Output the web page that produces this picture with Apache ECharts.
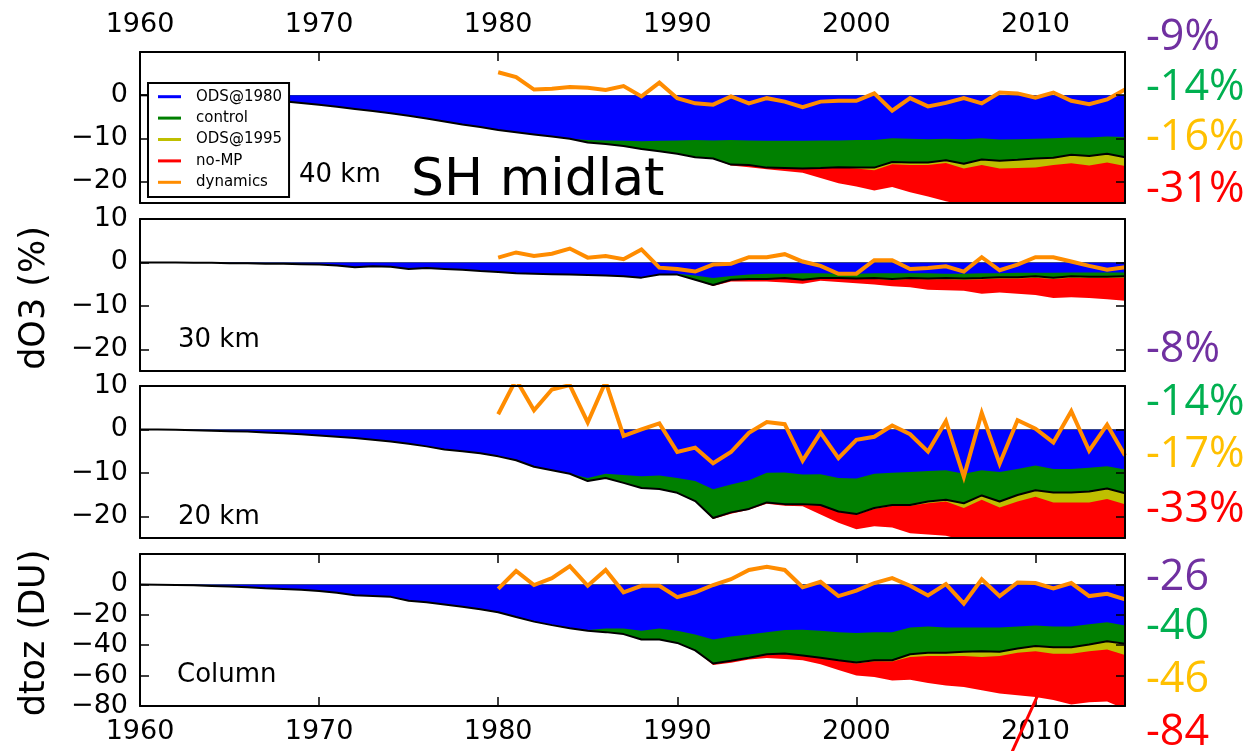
<!DOCTYPE html>
<html><head><meta charset="utf-8">
<script src="https://cdn.jsdelivr.net/npm/echarts@6/dist/echarts.min.js"></script>
<style>html,body{margin:0;padding:0;background:#fff}#c{width:1249px;height:751px}</style>
</head><body><div id="c"></div>
<script>
// ---------- DATA (1960..2015 annual) ----------
const years = [];
for (let y = 1960; y <= 2015; y++) years.push(y);
const dynYears = years.filter(y => y >= 1980);
const xTickLabels = [1960, 1970, 1980, 1990, 2000, 2010];

// 40 km (%)
const control_40 = [0,-0.1,-0.2,-0.4,-0.6,-0.8,-1.0,-1.2,-1.4,-1.8,
  -2.2,-2.7,-3.2,-3.7,-4.2,-4.8,-5.4,-6.1,-6.8,-7.4,
  -8.1,-8.6,-9.1,-9.6,-10.1,-11.0,-11.3,-11.8,-12.5,-13.0,
  -13.6,-14.4,-14.7,-16.1,-16.2,-16.8,-16.9,-17.0,-16.9,-16.7,
  -16.8,-16.8,-15.5,-15.6,-15.6,-15.1,-15.9,-14.9,-15.2,-15.0,
  -14.7,-14.5,-13.8,-14.1,-13.6,-14.4];
const ods1980_40 = [0,-0.1,-0.2,-0.4,-0.6,-0.8,-1.0,-1.2,-1.4,-1.8,
  -2.2,-2.7,-3.2,-3.7,-4.2,-4.8,-5.4,-6.1,-6.8,-7.4,
  -8.1,-8.6,-9.1,-9.6,-10.1,-10.4,-10.5,-10.6,-10.7,-10.6,
  -10.5,-10.4,-10.5,-10.4,-10.5,-10.6,-10.6,-10.6,-10.5,-10.5,
  -10.4,-10.4,-10.0,-10.1,-10.2,-10.1,-10.2,-10.0,-10.3,-10.2,
  -10.1,-10.0,-9.8,-9.8,-9.6,-9.7];
const ods1995_40 = [0,-0.1,-0.2,-0.4,-0.6,-0.8,-1.0,-1.2,-1.4,-1.8,
  -2.2,-2.7,-3.2,-3.7,-4.2,-4.8,-5.4,-6.1,-6.8,-7.4,
  -8.1,-8.6,-9.1,-9.6,-10.1,-11.0,-11.3,-11.8,-12.5,-13.0,
  -13.6,-14.4,-14.7,-16.1,-16.2,-16.8,-16.9,-17.0,-16.9,-16.7,
  -17.0,-17.4,-16.0,-16.2,-16.2,-15.7,-17.0,-16.2,-17.0,-16.9,
  -16.8,-16.2,-15.8,-16.3,-15.6,-16.4];
const noMP_40 = [0,-0.1,-0.2,-0.4,-0.6,-0.8,-1.0,-1.2,-1.4,-1.8,
  -2.2,-2.7,-3.2,-3.7,-4.2,-4.8,-5.4,-6.1,-6.8,-7.4,
  -8.1,-8.6,-9.1,-9.6,-10.1,-11.0,-11.3,-11.8,-12.5,-13.0,
  -13.6,-14.4,-14.7,-16.3,-16.7,-17.2,-17.6,-18.0,-19.2,-20.4,
  -21.2,-22.1,-21.3,-22.5,-23.5,-24.6,-25.5,-26.3,-27.0,-27.6,
  -28.2,-28.8,-29.4,-30.0,-30.5,-31.0];
const dynamics_40 = [5.3,4.2,1.3,1.5,1.9,1.7,1.2,2.1,-0.3,2.9,
  -0.7,-1.9,-2.2,-0.3,-1.9,-0.7,-1.5,-2.8,-1.5,-1.3,
  -1.3,0.4,-3.6,-0.7,-2.6,-1.8,-0.7,-1.9,0.6,0.4,
  -0.6,0.6,-1.3,-2.1,-1.0,1.3];

// 30 km (%)
const control_30 = [0,0,0,-0.1,-0.1,-0.2,-0.2,-0.3,-0.3,-0.4,
  -0.5,-0.7,-1.1,-0.9,-1.0,-1.5,-1.3,-1.5,-1.7,-2.0,
  -2.2,-2.5,-2.6,-2.7,-2.8,-2.9,-3.0,-3.2,-3.5,-2.8,
  -2.8,-4.0,-5.2,-4.0,-3.8,-3.8,-3.6,-4.0,-3.6,-3.6,
  -3.7,-3.6,-3.8,-3.6,-3.7,-3.6,-3.7,-3.6,-3.4,-3.4,
  -3.2,-3.5,-3.2,-3.3,-3.3,-3.2];
const ods1980_30 = [0,0,0,-0.1,-0.1,-0.2,-0.2,-0.3,-0.3,-0.4,
  -0.5,-0.7,-1.1,-0.9,-1.0,-1.5,-1.3,-1.5,-1.7,-2.0,
  -2.2,-2.5,-2.6,-2.7,-2.8,-2.9,-3.0,-3.2,-3.5,-2.8,
  -2.6,-3.0,-3.6,-3.1,-2.8,-2.6,-2.6,-2.5,-2.5,-2.6,
  -2.6,-2.5,-2.5,-2.5,-2.5,-2.6,-2.6,-2.5,-2.5,-2.4,
  -2.4,-2.4,-2.3,-2.3,-2.3,-2.3];
const ods1995_30 = [0,0,0,-0.1,-0.1,-0.2,-0.2,-0.3,-0.3,-0.4,
  -0.5,-0.7,-1.1,-0.9,-1.0,-1.5,-1.3,-1.5,-1.7,-2.0,
  -2.2,-2.5,-2.6,-2.7,-2.8,-2.9,-3.0,-3.2,-3.5,-2.8,
  -2.8,-4.0,-5.2,-4.0,-3.8,-3.8,-3.6,-4.0,-3.6,-3.6,
  -3.8,-3.8,-4.0,-3.8,-3.9,-3.9,-4.0,-3.9,-3.7,-3.7,
  -3.5,-3.8,-3.5,-3.6,-3.6,-3.5];
const noMP_30 = [0,0,0,-0.1,-0.1,-0.2,-0.2,-0.3,-0.3,-0.4,
  -0.5,-0.7,-1.1,-0.9,-1.0,-1.5,-1.3,-1.5,-1.7,-2.0,
  -2.2,-2.5,-2.6,-2.7,-2.8,-2.9,-3.0,-3.2,-3.5,-2.8,
  -2.8,-4.0,-5.4,-4.4,-4.4,-4.4,-4.6,-4.9,-4.2,-4.5,
  -4.8,-5.1,-5.5,-5.7,-6.3,-6.4,-6.5,-7.2,-6.9,-7.2,
  -7.5,-8.2,-8.0,-8.2,-8.5,-8.8];
const dynamics_30 = [1.1,2.3,1.5,2.0,3.2,1.1,1.5,0.75,3.0,-1.2,
  -1.5,-2.1,-0.5,-0.3,1.2,1.2,1.9,0.2,-0.8,-2.6,
  -2.6,0.5,0.5,-1.5,-1.3,-0.9,-2.1,1.2,-1.8,-0.5,
  1.2,1.2,0.2,-0.8,-1.7,-1.1];

// 20 km (%)
const control_20 = [0,0,-0.1,-0.2,-0.3,-0.4,-0.5,-0.7,-0.9,-1.1,
  -1.4,-1.7,-2.0,-2.4,-2.8,-3.3,-3.9,-4.6,-5.0,-5.5,
  -6.2,-7.1,-8.6,-9.4,-10.2,-11.9,-11.2,-12.3,-13.5,-13.7,
  -14.6,-16.5,-20.4,-19.1,-18.3,-16.8,-17.2,-17.2,-17.4,-18.9,
  -19.5,-18.1,-17.4,-17.4,-16.6,-16.2,-17.0,-15.2,-16.6,-15.1,
  -14.0,-14.5,-14.5,-14.3,-13.6,-14.7];
const ods1980_20 = [0,0,-0.1,-0.2,-0.3,-0.4,-0.5,-0.7,-0.9,-1.1,
  -1.4,-1.7,-2.0,-2.4,-2.8,-3.3,-3.9,-4.6,-5.0,-5.5,
  -6.2,-7.1,-8.6,-9.4,-10.2,-11.2,-10.2,-10.5,-10.8,-10.6,
  -11.2,-11.9,-13.8,-12.7,-11.7,-10.0,-9.9,-10.4,-10.3,-11.2,
  -11.3,-10.2,-10.0,-9.8,-9.6,-9.4,-10.2,-9.4,-9.8,-9.1,
  -8.3,-9.1,-9.1,-8.8,-8.5,-9.2];
const ods1995_20 = [0,0,-0.1,-0.2,-0.3,-0.4,-0.5,-0.7,-0.9,-1.1,
  -1.4,-1.7,-2.0,-2.4,-2.8,-3.3,-3.9,-4.6,-5.0,-5.5,
  -6.2,-7.1,-8.6,-9.4,-10.2,-11.9,-11.2,-12.3,-13.5,-13.7,
  -14.6,-16.5,-20.4,-19.1,-18.3,-16.8,-17.2,-17.2,-17.4,-18.9,
  -19.6,-18.3,-17.6,-17.6,-17.0,-16.6,-18.1,-16.2,-18.0,-16.6,
  -15.5,-16.8,-16.8,-16.8,-16.0,-17.2];
const noMP_20 = [0,0,-0.1,-0.2,-0.3,-0.4,-0.5,-0.7,-0.9,-1.1,
  -1.4,-1.7,-2.0,-2.4,-2.8,-3.3,-3.9,-4.6,-5.0,-5.5,
  -6.2,-7.1,-8.6,-9.4,-10.2,-11.9,-11.2,-12.3,-13.5,-13.7,
  -14.6,-16.5,-20.6,-19.4,-18.5,-17.1,-17.6,-17.7,-19.6,-21.5,
  -23.0,-22.3,-22.6,-23.9,-24.2,-24.5,-25.5,-26.5,-27.5,-28.3,
  -29.0,-30.0,-30.8,-31.5,-32.2,-33.0];
const dynamics_20 = [3.5,11.5,4.4,9.2,10.2,1.6,11.0,-1.5,0.0,1.4,
  -5.2,-4.2,-7.8,-5.2,-0.8,1.7,1.2,-7.2,-0.75,-6.6,
  -2.4,-1.7,0.9,-1.1,-5.1,1.9,-10.9,3.8,-7.9,2.1,
  0.15,-3.0,4.2,-4.9,1.1,-6.0];

// Column (DU)
const control_col = [0,-0.2,-0.4,-0.6,-1.0,-1.4,-1.9,-2.5,-3.0,-3.6,
  -4.3,-5.5,-7.1,-7.6,-8.2,-10.8,-11.8,-13.2,-14.7,-16.4,
  -18.3,-21.5,-24.5,-26.8,-28.8,-30.5,-31.4,-32.7,-36.3,-36.3,
  -38.5,-43.4,-52.0,-50.3,-48.2,-46.0,-45.5,-46.7,-48.2,-49.9,
  -51.4,-49.9,-49.9,-46.0,-45.0,-45.0,-44.3,-43.9,-44.3,-42.2,
  -40.6,-41.3,-41.3,-39.6,-37.4,-39.1];
const ods1980_col = [0,-0.2,-0.4,-0.6,-1.0,-1.4,-1.9,-2.5,-3.0,-3.6,
  -4.3,-5.5,-7.1,-7.6,-8.2,-10.8,-11.8,-13.2,-14.7,-16.4,
  -18.3,-21.5,-24.5,-26.8,-28.8,-30.0,-29.0,-29.0,-30.5,-29.0,
  -30.5,-33.0,-36.3,-34.2,-33.0,-31.4,-30.0,-29.9,-30.5,-31.4,
  -32.0,-31.4,-31.4,-28.4,-27.7,-28.4,-28.4,-28.4,-28.4,-27.7,
  -27.1,-27.7,-27.7,-26.2,-24.9,-27.1];
const ods1995_col = [0,-0.2,-0.4,-0.6,-1.0,-1.4,-1.9,-2.5,-3.0,-3.6,
  -4.3,-5.5,-7.1,-7.6,-8.2,-10.8,-11.8,-13.2,-14.7,-16.4,
  -18.3,-21.5,-24.5,-26.8,-28.8,-30.5,-31.4,-32.7,-36.3,-36.3,
  -38.5,-43.4,-52.0,-50.3,-48.2,-46.0,-45.5,-46.7,-48.2,-49.9,
  -52.0,-50.5,-50.8,-47.7,-47.1,-47.1,-47.1,-47.7,-47.1,-45.0,
  -43.9,-45.6,-45.6,-43.9,-42.8,-46.5];
const noMP_col = [0,-0.2,-0.4,-0.6,-1.0,-1.4,-1.9,-2.5,-3.0,-3.6,
  -4.3,-5.5,-7.1,-7.6,-8.2,-10.8,-11.8,-13.2,-14.7,-16.4,
  -18.3,-21.5,-24.5,-26.8,-28.8,-30.5,-31.4,-32.7,-36.3,-36.3,
  -38.5,-43.4,-53.0,-51.5,-49.4,-48.4,-49.0,-49.9,-52.5,-56.3,
  -60.0,-61.0,-63.2,-62.8,-64.9,-66.5,-67.5,-69.7,-71.8,-72.9,
  -74.0,-76.1,-79.0,-77.5,-77.0,-82.0];
const dynamics_col = [-3.0,8.8,-0.4,4.1,12.0,-0.9,9.5,-5.2,-0.9,-0.9,
  -8.4,-5.2,-0.4,3.4,9.5,11.6,9.5,-1.9,1.7,-7.7,
  -4.1,0.9,4.1,-0.9,-7.3,0.2,-12.7,3.4,-7.7,1.3,
  0.9,-2.6,0.9,-7.7,-6.2,-9.9];

// y tick labels per panel
const yTicks_40 = [-20, -10, 0];
const yTicks_30 = [-20, -10, 0, 10];
const yTicks_20 = [-20, -10, 0, 10];
const yTicks_col = [-80, -60, -40, -20, 0];

// ---------- CHART ----------
const panels = [
  {ods80: ods1980_40, ctrl: control_40, ods95: ods1995_40, nomp: noMP_40, dyn: dynamics_40, min: -25, max: 10, ticks: yTicks_40},
  {ods80: ods1980_30, ctrl: control_30, ods95: ods1995_30, nomp: noMP_30, dyn: dynamics_30, min: -25, max: 10, ticks: yTicks_30},
  {ods80: ods1980_20, ctrl: control_20, ods95: ods1995_20, nomp: noMP_20, dyn: dynamics_20, min: -25, max: 10, ticks: yTicks_20},
  {ods80: ods1980_col, ctrl: control_col, ods95: ods1995_col, nomp: noMP_col, dyn: dynamics_col, min: -80, max: 20, ticks: yTicks_col}
];
const gridTops = [52, 219, 386, 554];
const gridHeights = [151, 152, 152, 152];
const FONT = 'DejaVu Sans';
const pairs = (xs, vs) => xs.map((x, i) => [x, vs[i]]);
const minus = v => String(v).replace('-', '\u2212');
const plain = v => String(v);
const spine = {show: true, onZero: false, lineStyle: {color: '#000', width: 2}};

const grid = [], xAxis = [], yAxis = [], series = [];
panels.forEach((p, g) => {
  grid.push({left: 140, right: 124, top: gridTops[g], height: gridHeights[g], show: false});
  const bottomLabels = g === 3;
  const topLabels = g === 0;
  const bottomTicks = g === 3;
  const topTicks = g === 0 || g === 3;
  xAxis.push({
    gridIndex: g, type: 'value', min: 1960, max: 2015, position: 'bottom', z: 10,
    axisLine: spine, splitLine: {show: false},
    axisTick: {show: bottomTicks, inside: true, length: 9, lineStyle: {color: '#000', width: 1.5}, customValues: xTickLabels},
    axisLabel: {show: bottomLabels, customValues: xTickLabels, margin: 12, fontFamily: FONT, fontSize: 27, color: '#000', formatter: plain}
  });
  xAxis.push({
    gridIndex: g, type: 'value', min: 1960, max: 2015, position: 'top', z: 10,
    axisLine: spine, splitLine: {show: false},
    axisTick: {show: topTicks, inside: true, length: 9, lineStyle: {color: '#000', width: 1.5}, customValues: xTickLabels},
    axisLabel: {show: topLabels, customValues: xTickLabels, margin: 14, fontFamily: FONT, fontSize: 27, color: '#000', formatter: plain}
  });
  yAxis.push({
    gridIndex: g, type: 'value', min: p.min, max: p.max, position: 'left', z: 10,
    axisLine: spine, splitLine: {show: false},
    axisTick: {show: true, inside: true, length: 9, lineStyle: {color: '#000', width: 1.5}, customValues: p.ticks},
    axisLabel: {show: true, customValues: p.ticks, margin: 12, fontFamily: FONT, fontSize: 27, color: '#000', formatter: minus}
  });
  yAxis.push({
    gridIndex: g, type: 'value', min: p.min, max: p.max, position: 'right', z: 10,
    axisLine: spine, splitLine: {show: false},
    axisTick: {show: true, inside: true, length: 9, lineStyle: {color: '#000', width: 1.5}, customValues: p.ticks},
    axisLabel: {show: false}
  });
  const xi = 2 * g, yi = 2 * g;
  const area = (name, color, vals, z) => ({
    name, type: 'line', xAxisIndex: xi, yAxisIndex: yi, data: pairs(years, vals),
    showSymbol: false, symbol: 'none', z, silent: true,
    itemStyle: {color}, lineStyle: {width: 0, color},
    areaStyle: {color, opacity: 1, origin: 0}
  });
  series.push(area('no-MP', '#FF0000', p.nomp, 2));
  series.push(area('ODS@1995', '#BFBF00', p.ods95, 3));
  series.push(area('control', '#008000', p.ctrl, 4));
  series.push(area('ODS@1980', '#0000FF', p.ods80, 5));
  series.push({
    name: 'control line', type: 'line', xAxisIndex: xi, yAxisIndex: yi, data: pairs(years, p.ctrl),
    showSymbol: false, symbol: 'none', z: 6, silent: true,
    itemStyle: {color: '#000'}, lineStyle: {width: 2, color: '#000'}
  });
  series.push({
    name: 'dynamics', type: 'line', xAxisIndex: xi, yAxisIndex: yi, data: pairs(dynYears, p.dyn),
    showSymbol: false, symbol: 'none', z: 7, silent: true,
    itemStyle: {color: '#FF8C00'}, lineStyle: {width: 4, color: '#FF8C00', join: 'miter'}
  });
});

const txt = (id, text, x, y, size, color, extra) => Object.assign({
  type: 'text', id, x, y, z: 30,
  style: Object.assign({text, fontFamily: FONT, fontSize: size, fill: color || '#000', textVerticalAlign: 'middle'}, extra || {})
});
const PCT = 'Open Sans';
const graphics = [
  txt('t40', '40 km', 299, 175, 26),
  txt('tsh', 'SH midlat', 411, 181, 52),
  txt('t30', '30 km', 178, 340, 26),
  txt('t20', '20 km', 178, 517, 26),
  txt('tcol', 'Column', 177, 675, 26),
  Object.assign(txt('yl1', 'dO3 (%)', 35, 298, 35, '#000', {textAlign: 'center'}), {rotation: Math.PI / 2}),
  Object.assign(txt('yl2', 'dtoz (DU)', 35, 633, 35, '#000', {textAlign: 'center'}), {rotation: Math.PI / 2}),
  txt('a1', '-9%', 1146, 38, 43, '#7030A0', {fontFamily: PCT}),
  txt('a2', '-14%', 1146, 88, 43, '#00B050', {fontFamily: PCT}),
  txt('a3', '-16%', 1146, 138, 43, '#FFC000', {fontFamily: PCT}),
  txt('a4', '-31%', 1146, 190, 43, '#FF0000', {fontFamily: PCT}),
  txt('a5', '-8%', 1146, 350, 43, '#7030A0', {fontFamily: PCT}),
  txt('a6', '-14%', 1146, 403, 43, '#00B050', {fontFamily: PCT}),
  txt('a7', '-17%', 1146, 455, 43, '#FFC000', {fontFamily: PCT}),
  txt('a8', '-33%', 1146, 510, 43, '#FF0000', {fontFamily: PCT}),
  txt('a9', '-26', 1146, 578, 43, '#7030A0', {fontFamily: PCT}),
  txt('a10', '-40', 1146, 627, 43, '#00B050', {fontFamily: PCT}),
  txt('a11', '-46', 1146, 680, 43, '#FFC000', {fontFamily: PCT}),
  txt('a12', '-84', 1146, 733, 43, '#FF0000', {fontFamily: PCT})
];

const chart = echarts.init(document.getElementById('c'), null, {renderer: 'canvas'});
chart.setOption({
  animation: false,
  backgroundColor: '#fff',
  grid, xAxis, yAxis, series,
  legend: {
    orient: 'vertical', left: 148, top: 83, z: 20,
    data: ['ODS@1980', 'control', 'ODS@1995', 'no-MP', 'dynamics'],
    icon: 'rect', itemWidth: 23, itemHeight: 3, itemGap: 0,
    padding: [3, 7, 4, 10], backgroundColor: '#fff', borderColor: '#000', borderWidth: 2,
    selectedMode: false,
    textStyle: {fontFamily: FONT, fontSize: 15, color: '#000', lineHeight: 21.4, padding: [0, 0, 0, 10]}
  },
  graphic: {elements: graphics}
});
// off-scale arrow for the column no-MP value
const pA = chart.convertToPixel({gridIndex: 3}, [2010.1, -73.7]);
const pB = chart.convertToPixel({gridIndex: 3}, [2008.7, -110]);
chart.setOption({graphic: {elements: [{
  type: 'line', id: 'arrow', z: 30,
  shape: {x1: pA[0], y1: pA[1], x2: pB[0], y2: pB[1]},
  style: {stroke: '#FF0000', lineWidth: 3}
}]}});
</script></body></html>
